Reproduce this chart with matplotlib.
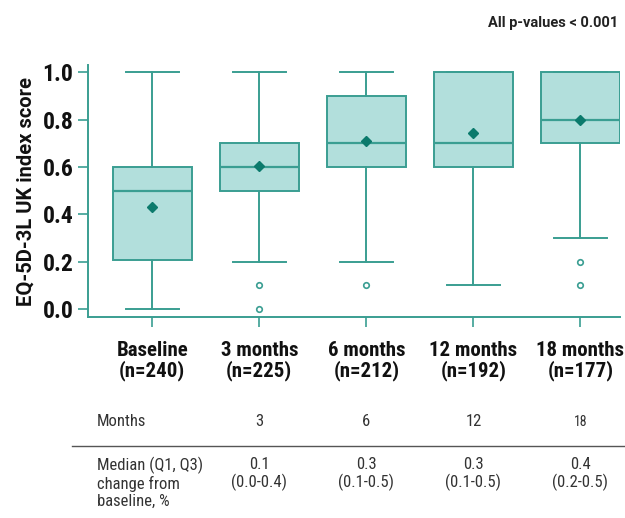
import matplotlib
matplotlib.use('Agg')
import matplotlib.pyplot as plt
from matplotlib.lines import Line2D

plt.rcParams['font.family'] = ['Roboto', 'DejaVu Sans']
NARROW = ['Roboto Condensed', 'Liberation Sans Narrow', 'DejaVu Sans Condensed', 'Roboto']

# data
groups = ['Baseline\n(n=240)', '3 months\n(n=225)', '6 months\n(n=212)',
          '12 months\n(n=192)', '18 months\n(n=177)']
whislo = [0.0, 0.2, 0.2, 0.1, 0.3]
q1 = [0.205, 0.5, 0.6, 0.6, 0.7]
med = [0.5, 0.6, 0.7, 0.7, 0.8]
q3 = [0.6, 0.7, 0.9, 1.0, 1.0]
whishi = [1.0, 1.0, 1.0, 1.0, 1.0]
means = [0.43, 0.605, 0.71, 0.745, 0.8]
fliers = [[], [0.1, 0.0], [0.1], [], [0.2, 0.1]]

months = ['3', '6', '12', '18']
change_med = ['0.1', '0.3', '0.3', '0.4']
change_iqr = ['(0.0-0.4)', '(0.1-0.5)', '(0.1-0.5)', '(0.2-0.5)']

EDGE = '#3a9e92'
FILL = '#b2dfdc'
DARK = '#0b7a6c'

fig = plt.figure(figsize=(6.25, 5.18), dpi=100)
ax = fig.add_axes([0.141, 0.388, 0.851, 0.486])

stats = []
for i in range(len(groups)):
    stats.append(dict(whislo=whislo[i], q1=q1[i], med=med[i], q3=q3[i],
                      whishi=whishi[i], mean=means[i], fliers=fliers[i]))

ax.bxp(stats, positions=range(len(groups)), widths=0.74, patch_artist=True,
       showmeans=True,
       boxprops=dict(facecolor=FILL, edgecolor=EDGE, linewidth=1.4),
       medianprops=dict(color=EDGE, linewidth=1.6),
       whiskerprops=dict(color=EDGE, linewidth=1.4),
       capprops=dict(color=EDGE, linewidth=1.4),
       capwidths=0.5,
       meanprops=dict(marker='D', markerfacecolor=DARK, markeredgecolor=DARK,
                      markersize=5),
       flierprops=dict(marker='o', markerfacecolor='white', markeredgecolor=EDGE,
                       markersize=4, markeredgewidth=1.2))

ax.set_xlim(-0.6, 4.37)
ax.set_ylim(-0.034, 1.03)
ax.set_yticks([0.0, 0.2, 0.4, 0.6, 0.8, 1.0])
ax.set_yticklabels(['0.0', '0.2', '0.4', '0.6', '0.8', '1.0'],
                   fontsize=17, fontweight='bold', family=NARROW)
ax.set_xticks(range(len(groups)))
ax.set_xticklabels(groups, fontsize=15, fontweight='bold', linespacing=1.05,
                   family=NARROW)
ax.tick_params(axis='both', colors=EDGE, length=7, width=1.2, labelcolor='#111111')
ax.tick_params(axis='x', pad=10)
for s in ['top', 'right']:
    ax.spines[s].set_visible(False)
for s in ['bottom', 'left']:
    ax.spines[s].set_color(EDGE)
    ax.spines[s].set_linewidth(1.4)
ax.set_ylabel('EQ-5D-3L UK index score', fontsize=14.5, fontweight='bold',
              color='#111111', labelpad=5)

fig.text(0.99, 0.955, 'All p-values < 0.001', ha='right', va='center',
         fontsize=10.5, fontweight='bold', color='#222222')

# table below the plot
def xfig(pos):
    return ax.transData.transform((pos, 0))[0] / fig.bbox.width

fig.text(97 / 625, 1 - 422 / 518, 'Months', ha='left', va='center',
         fontsize=12, color='#333333', family=NARROW)
for i, m in enumerate(months):
    fig.text(xfig(i + 1), 1 - 422 / 518, m, ha='center', va='center',
             fontsize=12 if i < 3 else 10, color='#333333', family=NARROW)
fig.add_artist(Line2D([72 / 625, 1.0], [1 - 446 / 518, 1 - 446 / 518],
                      color='#555555', linewidth=1.0))
fig.text(97 / 625, 1 - 457 / 518, 'Median (Q1, Q3)\nchange from\nbaseline, %',
         ha='left', va='top', fontsize=12, color='#333333', linespacing=1.15,
         family=NARROW)
for i in range(len(months)):
    fig.text(xfig(i + 1), 1 - 457 / 518, change_med[i] + '\n' + change_iqr[i],
             ha='center', va='top', fontsize=12, color='#333333', linespacing=1.15,
             family=NARROW)

fig.savefig('out.png', dpi=100)
